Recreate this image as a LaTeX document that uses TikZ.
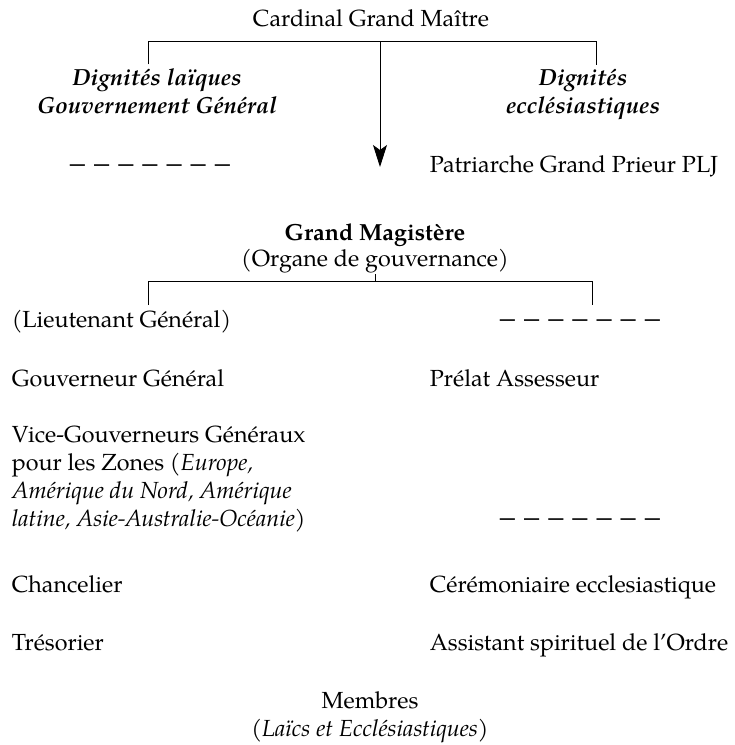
\documentclass[tikz,border=0pt]{standalone}
\usepackage{fontspec}
\usepackage{graphicx}
\setmainfont{TeX Gyre Pagella}
\usetikzlibrary{arrows.meta}

\newcommand{\tiret}{\scalebox{1.3}[1.2]{–}}
\newcommand{\tirets}{\tiret\hspace{9pt}\tiret\hspace{9pt}\tiret\hspace{9pt}\tiret\hspace{9pt}\tiret\hspace{9pt}\tiret\hspace{9pt}\tiret}

\begin{document}
\begin{tikzpicture}[x=1pt,y=-1pt,line width=1pt,
    every node/.style={font=\fontsize{23.3}{28}\selectfont},
    titre/.style={align=center,font=\fontsize{23.3}{28}\selectfont\bfseries\itshape},
    gauche/.style={anchor=base west},
    fleche/.style={-{Stealth[length=22pt,width=14pt,inset=5pt]}}]
   \useasboundingbox (0,0) rectangle (735,745);

   % Cardinal and the two dignities
   \node[anchor=base] (cgm) at (371,26) {Cardinal Grand Maître};
   \node[titre,anchor=base] (laiq) at (157,113) {Dignités laïques\\Gouvernement Général};
   \node[titre,anchor=base] (eccl) at (583,113) {Dignités\\ecclésiastiques};

   % Top bracket and arrow
   \coordinate (tl) at (148,41);
   \coordinate (tr) at (596,41);
   \coordinate (tm) at (380,41);
   \coordinate (pointe) at (380,167);
   \draw (tl |- laiq.north) -- (tl) -- (tr) -- (tr |- eccl.north);
   \draw[fleche] (tm) -- (pointe);

   \node[anchor=base] (tir1) at (150,172) {\tirets};
   \node[gauche] (patr) at (426,172) {Patriarche Grand Prieur PLJ};

   % Grand Magistere
   \node[anchor=base,font=\fontsize{23.3}{28}\selectfont\bfseries] (mag) at (375,240) {Grand Magistère};
   \node[anchor=base,inner sep=1pt] (org) at (375,266) {(Organe de gouvernance)};

   % Lower bracket
   \coordinate (bl) at (148,281);
   \coordinate (br) at (592,281);
   \coordinate (blb) at (148,305);
   \coordinate (brb) at (592,305);
   \draw (org.south) -- (org.south |- bl);
   \draw (blb) -- (bl) -- (br) -- (brb);

   % Left column
   \node[gauche] (lieut) at (8,327) {(Lieutenant Général)};
   \node[gauche] (gouv) at (8,386) {Gouverneur Général};
   \node[gauche,align=left] (vice) at (8,526) {Vice-Gouverneurs Généraux\\pour les Zones \textit{(Europe,}\\\textit{Amérique du Nord, Amérique}\\\textit{latine, Asie-Australie-Océanie)}};
   \node[gauche] (chanc) at (8,592) {Chancelier};
   \node[gauche] (tres) at (8,650) {Trésorier};

   % Right column
   \node[anchor=base] (tir2) at (580,327) {\tirets};
   \node[gauche] (prelat) at (426,386) {Prélat Assesseur};
   \node[anchor=base] (tir3) at (580,526) {\tirets};
   \node[gauche] (cerem) at (426,592) {Cérémoniaire ecclesiastique};
   \node[gauche] (assist) at (426,650) {Assistant spirituel de l’Ordre};

   % Members
   \node[anchor=base,align=center] (memb) at (370,736) {Membres\\\textit{(Laïcs et Ecclésiastiques)}};

\end{tikzpicture}
\end{document}
